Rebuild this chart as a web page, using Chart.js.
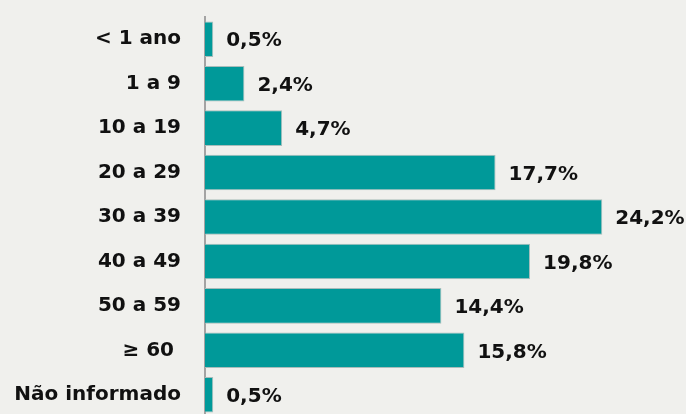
<!DOCTYPE html>
<html>
<head>
<meta charset="utf-8">
<script src="https://cdn.jsdelivr.net/npm/chart.js@4/dist/chart.umd.min.js"></script>
<style>
  html, body { margin: 0; padding: 0; overflow: hidden; background: #f0f0ed; }
  #wrap { position: absolute; left: 0; top: 0; width: 686px; height: 417px; }
</style>
</head>
<body>
<div id="wrap"><canvas id="age-chart" width="686" height="417"></canvas></div>
<script>
// --- Data: age group distribution (%) ---
const ageGroups = ['< 1 ano', '1 a 9', '10 a 19', '20 a 29', '30 a 39', '40 a 49', '50 a 59', '≥ 60 ', 'Não informado'];
const percents = [0.5, 2.4, 4.7, 17.7, 24.2, 19.8, 14.4, 15.8, 0.5];
const percentLabels = ['0,5%', '2,4%', '4,7%', '17,7%', '24,2%', '19,8%', '14,4%', '15,8%', '0,5%'];

const fontFamily = "'DejaVu Sans', sans-serif";

// Draws the value labels right after each bar
const valueLabels = {
    id: 'valueLabels',
    afterDatasetsDraw(chart) {
        const ctx = chart.ctx;
        const meta = chart.getDatasetMeta(0);
        ctx.save();
        ctx.font = `bold 20px ${fontFamily}`;
        ctx.fillStyle = '#111111';
        ctx.textAlign = 'left';
        ctx.textBaseline = 'middle';
        meta.data.forEach((bar, i) => {
            ctx.fillText(percentLabels[i], bar.x + 13, bar.y + 2);
        });
        ctx.restore();
    }
};

new Chart(document.getElementById('age-chart'), {
    type: 'bar',
    data: {
        labels: ageGroups,
        datasets: [{
            data: percents,
            backgroundColor: '#009999',
            borderColor: '#a9bdbb',
            borderWidth: 1,
            borderSkipped: 'left',
            categoryPercentage: 1,
            barPercentage: 0.8
        }]
    },
    options: {
        indexAxis: 'y',
        responsive: false,
        animation: false,
        devicePixelRatio: 1,
        layout: {
            padding: { top: 17, right: 0, bottom: 0, left: 0 }
        },
        plugins: {
            legend: { display: false },
            tooltip: { enabled: false }
        },
        scales: {
            x: {
                display: false,
                min: 0,
                max: 29.3
            },
            y: {
                // fixed label column, no extra vertical padding from the tick labels
                afterFit: (scale) => {
                    scale.width = 205;
                    scale.paddingTop = 0;
                    scale.paddingBottom = 0;
                },
                grid: { display: false, drawTicks: false },
                border: { display: true, color: '#a3a3a3', width: 2 },
                ticks: {
                    padding: 24,
                    color: '#111111',
                    font: { family: fontFamily, size: 20, weight: 'bold' }
                }
            }
        }
    },
    plugins: [valueLabels]
});
</script>
</body>
</html>
